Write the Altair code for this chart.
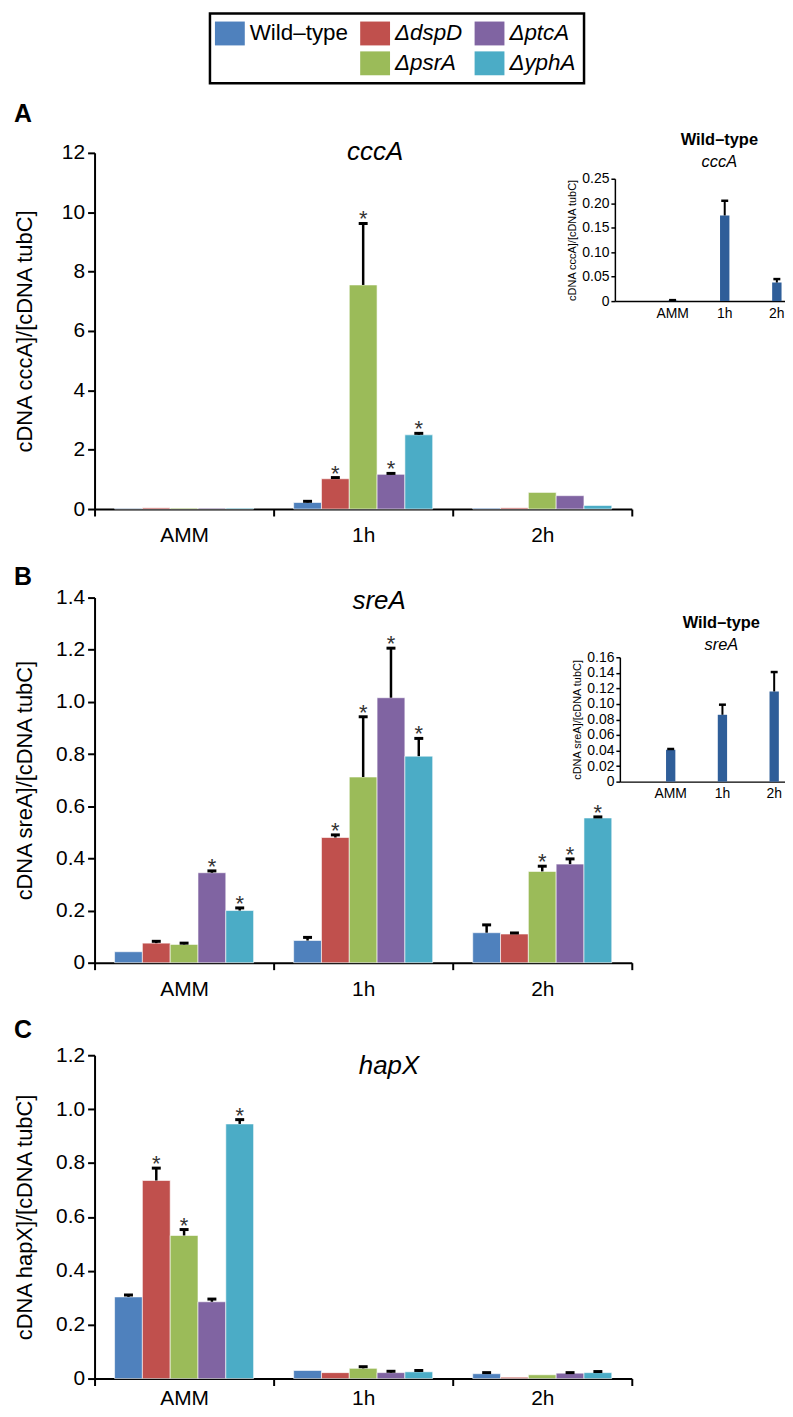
import altair as alt
import pandas as pd

series = ["Wild–type", "ΔdspD", "ΔpsrA", "ΔptcA", "ΔyphA"]
series_colors = ["#4F81BD", "#C0504D", "#9BBB59", "#8064A2", "#4BACC6"]
times = ["AMM", "1h", "2h"]

# legend layout order (row-major, 3 columns, blank cell under Wild-type)
legend_domain = ["Wild–type", "ΔdspD", "ΔptcA", " ", "ΔpsrA", "ΔyphA"]
legend_range = ["#4F81BD", "#C0504D", "#8064A2", "#FFFFFF", "#9BBB59", "#4BACC6"]

# ---- Panel A: cccA (per time point, series order) ----
ccca_mean = [[0.02, 0.04, 0.03, 0.03, 0.03],
             [0.22, 1.02, 7.55, 1.17, 2.50],
             [0.03, 0.04, 0.56, 0.45, 0.12]]
ccca_sd = [[0, 0, 0, 0, 0],
           [0.04, 0.04, 2.07, 0.03, 0.05],
           [0, 0, 0, 0, 0]]
ccca_sig = [[0, 0, 0, 0, 0],
            [0, 1, 1, 1, 1],
            [0, 0, 0, 0, 0]]

# ---- Panel B: sreA ----
srea_mean = [[0.042, 0.075, 0.070, 0.345, 0.200],
             [0.085, 0.480, 0.712, 1.016, 0.792],
             [0.115, 0.110, 0.350, 0.378, 0.555]]
srea_sd = [[0, 0.007, 0.005, 0.007, 0.010],
           [0.012, 0.010, 0.231, 0.190, 0.068],
           [0.030, 0.004, 0.020, 0.020, 0.004]]
srea_sig = [[0, 0, 0, 1, 1],
            [0, 1, 1, 1, 1],
            [0, 0, 1, 1, 1]]

# ---- Panel C: hapX ----
hapx_mean = [[0.303, 0.735, 0.531, 0.285, 0.945],
             [0.030, 0.022, 0.038, 0.022, 0.025],
             [0.018, 0.005, 0.014, 0.020, 0.022]]
hapx_sd = [[0.007, 0.046, 0.022, 0.010, 0.016],
           [0, 0, 0.006, 0.005, 0.005],
           [0.004, 0, 0, 0.002, 0.004]]
hapx_sig = [[0, 1, 1, 0, 1],
            [0, 0, 0, 0, 0],
            [0, 0, 0, 0, 0]]

# ---- Insets: wild-type only ----
inset_ccca_mean = [0.001, 0.175, 0.038]
inset_ccca_sd = [0.001, 0.030, 0.007]
inset_srea_mean = [0.041, 0.086, 0.116]
inset_srea_sd = [0.001, 0.013, 0.025]

FONT = "Arial"
PLOT_W = 540

legend = alt.Legend(
    title=None, orient="none", legendX=116, legendY=-140,
    direction="horizontal", columns=3,
    symbolType="M-1.25,-1H1.25V1H-1.25Z", symbolSize=576, symbolStrokeWidth=0,
    symbolOpacity=1,
    labelFontSize=22.5, labelFont=FONT, labelColor="black", labelLimit=300,
    labelFontStyle=alt.expr("datum.value == 'Wild–type' ? 'normal' : 'italic'"),
    columnPadding=12, rowPadding=6, labelOffset=8, padding=8,
    strokeColor="black", fillColor="white",
)


def long_df(means, sds, sigs):
    rows = []
    for t, ml, sl, gl in zip(times, means, sds, sigs):
        for s, m, sd, g in zip(series, ml, sl, gl):
            rows.append({"time": t, "series": s, "value": m, "upper": m + sd, "sig": g})
    return pd.DataFrame(rows)


def main_layer(df, ytitle, ymax, yticks, label_expr, xlabel_pad=9):
    x = alt.X("time:N", sort=times,
              scale=alt.Scale(paddingInner=0, paddingOuter=0),
              axis=alt.Axis(title=None, tickBand="extent", labelAngle=0,
                            labelFontSize=21, labelPadding=xlabel_pad, labelColor="black",
                            tickSize=7, tickWidth=2, tickColor="black",
                            domainWidth=2, domainColor="black", grid=False))
    xo = alt.XOffset("series:N", sort=series,
                     scale=alt.Scale(paddingInner=0, paddingOuter=0.72))
    yaxis = alt.Axis(title=ytitle, values=yticks, labelExpr=label_expr,
                     labelFontSize=21, labelColor="black", labelPadding=3,
                     titleFontSize=22, titleFontWeight="normal", titleColor="black",
                     titlePadding=17, minExtent=41, maxExtent=41,
                     tickSize=7, tickWidth=2, tickColor="black",
                     domainWidth=2, domainColor="black", grid=False)
    yscale = alt.Scale(domain=[0, ymax], nice=False)
    base = alt.Chart(df)
    bars = base.mark_bar(stroke="white", strokeWidth=0.6).encode(
        x=x, xOffset=xo,
        y=alt.Y("value:Q", scale=yscale, axis=yaxis),
        color=alt.Color("series:N",
                        scale=alt.Scale(domain=legend_domain, range=legend_range),
                        legend=legend),
    )
    rules = base.transform_filter("datum.upper > datum.value").mark_rule(
        color="black", strokeWidth=2.5).encode(
        x=x, xOffset=xo, y=alt.Y("value:Q", scale=yscale, axis=yaxis), y2="upper:Q")
    caps = base.transform_filter("datum.upper > datum.value").mark_tick(
        color="black", thickness=3, size=9, opacity=1).encode(
        x=x, xOffset=xo, y=alt.Y("upper:Q", scale=yscale, axis=yaxis))
    stars = base.transform_filter("datum.sig == 1").mark_text(
        text="*", fontSize=22, color="#333333", baseline="alphabetic", dy=3).encode(
        x=x, xOffset=xo, y=alt.Y("upper:Q", scale=yscale, axis=yaxis))
    return alt.layer(bars, rules, caps, stars)


def inset_layer(means, sds, gene, ymax, yticks, xrange, yrange, po, align,
                yoff, xoff, tx, ty1, ty2):
    df = pd.DataFrame({"time": times, "value": means,
                       "upper": [m + s for m, s in zip(means, sds)]})
    x = alt.X("time:N", sort=times,
              scale=alt.Scale(range=xrange, paddingInner=0.82, paddingOuter=po, align=align),
              axis=alt.Axis(orient="bottom", offset=xoff, title=None, ticks=False,
                            labelAngle=0, labelFontSize=14, labelPadding=5,
                            labelColor="black", domainWidth=1.5, domainColor="black",
                            grid=False))
    yscale = alt.Scale(domain=[0, ymax], range=yrange, nice=False)
    yaxis = alt.Axis(orient="left", offset=yoff, values=yticks,
                     labelExpr="datum.value == 0 ? '0' : format(datum.value, '.2f')",
                     labelFontSize=14, labelColor="black", labelPadding=2,
                     title=f"cDNA {gene}]/[cDNA tubC]", titleFontSize=11,
                     titleFontWeight="normal", titleColor="black", titlePadding=4,
                     tickSize=4, tickWidth=1.5, tickColor="black",
                     domainWidth=1.5, domainColor="black", grid=False)
    base = alt.Chart(df)
    bars = base.mark_bar(color="#2F5E99").encode(
        x=x, y=alt.Y("value:Q", scale=yscale, axis=yaxis))
    rules = base.mark_rule(color="black", strokeWidth=2).encode(
        x=x, y=alt.Y("value:Q", scale=yscale, axis=yaxis), y2="upper:Q")
    caps = base.mark_tick(color="black", thickness=2.5, size=7, opacity=1).encode(
        x=x, y=alt.Y("upper:Q", scale=yscale, axis=yaxis))
    t1 = alt.Chart(pd.DataFrame({"t": ["Wild–type"]})).mark_text(
        fontSize=16.5, fontWeight="bold", color="black", font=FONT).encode(
        text="t:N", x=alt.value(tx), y=alt.value(ty1))
    t2 = alt.Chart(pd.DataFrame({"t": [gene]})).mark_text(
        fontSize=16.5, fontStyle="italic", color="black", font=FONT).encode(
        text="t:N", x=alt.value(tx), y=alt.value(ty2))
    return alt.layer(bars, rules, caps, t1, t2)


dec1 = "datum.value == 0 ? '0' : format(datum.value, '.1f')"

# Panel A
a_main = main_layer(long_df(ccca_mean, ccca_sd, ccca_sig),
                    "cDNA cccA]/[cDNA tubC]", 12, [0, 2, 4, 6, 8, 10, 12],
                    "format(datum.value, 'd')")
a_inset = inset_layer(inset_ccca_mean, inset_ccca_sd, "cccA", 0.25,
                      [0, 0.05, 0.10, 0.15, 0.20, 0.25],
                      [523, 698], [149, 26], 0.58, 0.877,
                      -523, -209, 628, -13, 9)
panel_a = alt.layer(a_main, a_inset).resolve_scale(
    x="independent", y="independent").properties(
    width=PLOT_W, height=358,
    title=alt.Title("cccA", fontSize=26, fontStyle="italic", fontWeight="normal",
                    anchor="middle", frame="group", offset=-33, dx=12, color="black"))

# Panel B
b_main = main_layer(long_df(srea_mean, srea_sd, srea_sig),
                    "cDNA sreA]/[cDNA tubC]", 1.4,
                    [0, 0.2, 0.4, 0.6, 0.8, 1.0, 1.2, 1.4], dec1)
b_inset = inset_layer(inset_srea_mean, inset_srea_sd, "sreA", 0.16,
                      [0, 0.02, 0.04, 0.06, 0.08, 0.10, 0.12, 0.14, 0.16],
                      [528, 696], [185, 60], 0.525, 0.85,
                      -528, -182, 630, 26, 48)
panel_b = alt.layer(b_main, b_inset).resolve_scale(
    x="independent", y="independent").properties(
    width=PLOT_W, height=367,
    title=alt.Title("sreA", fontSize=26, fontStyle="italic", fontWeight="normal",
                    anchor="middle", frame="group", offset=-27, dx=16, color="black"))

# Panel C
panel_c = main_layer(long_df(hapx_mean, hapx_sd, hapx_sig),
                     "cDNA hapX]/[cDNA tubC]", 1.2,
                     [0, 0.2, 0.4, 0.6, 0.8, 1.0, 1.2], dec1, xlabel_pad=2).properties(
    width=PLOT_W, height=325,
    title=alt.Title("hapX", fontSize=26, fontStyle="italic", fontWeight="normal",
                    anchor="middle", frame="group", offset=-35, dx=26, color="black"))


def letter(ch, off):
    return alt.Title(ch, anchor="start", fontSize=25, fontWeight="bold",
                     offset=off, color="black")


wa = alt.vconcat(panel_a, title=letter("A", 5))
wb = alt.vconcat(panel_b, title=letter("B", -3))
wc = alt.vconcat(panel_c, title=letter("C", 1))

chart = alt.vconcat(wa, wb, wc, spacing=19).properties(
    padding={"left": 6, "top": 0, "right": 0, "bottom": 0}
).configure(font=FONT).configure_view(strokeWidth=0).configure_legend(
    strokeWidth=2.5, cornerRadius=0)

chart.save("out.html", embed_options={"renderer": "svg", "actions": False})
